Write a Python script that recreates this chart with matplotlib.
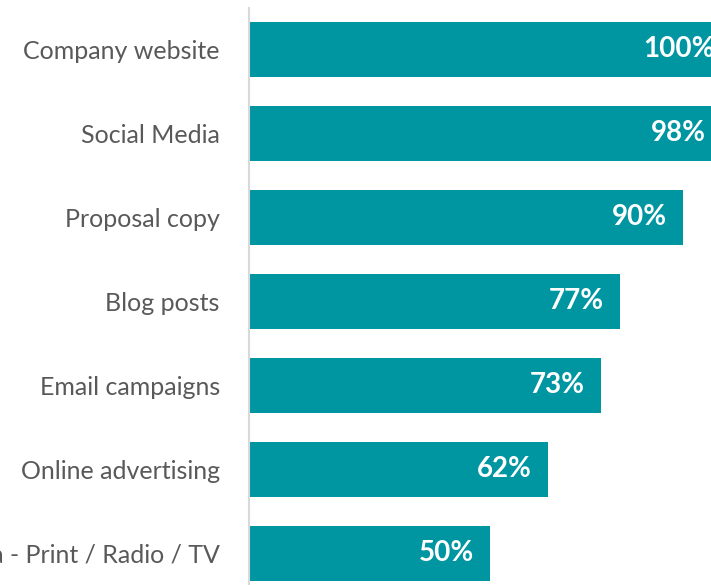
import matplotlib.pyplot as plt

channels = ["Company website", "Social Media", "Proposal copy", "Blog posts",
            "Email campaigns", "Online advertising",
            "Traditional media - Print / Radio / TV"]
shares = [100, 98, 90, 77, 73, 62, 50]

bar_color = "#0096A1"
text_color = "#595959"

fig = plt.figure(figsize=(7.11, 5.85), dpi=100)
ax = fig.add_axes([249 / 711, 0, 1 - 249 / 711, 577 / 585])

ypos = list(range(len(channels)))
ax.barh(ypos, shares, height=0.655, color=bar_color)

# the plot is cropped: the right end of the scale falls outside the figure
ax.set_xlim(0, (711 - 249) / 4.82)
ax.set_ylim(6.375, -0.494)

for y, v in zip(ypos, shares):
    ax.text(v - 3.3, y, f"{v}%", ha="right", va="center", color="white",
            fontsize=20, fontweight="bold", family="Lato", clip_on=False)

ax.set_yticks(ypos)
ax.set_yticklabels(channels, fontsize=18, color=text_color, family="Lato")
ax.tick_params(axis="y", length=0, pad=21)
ax.set_xticks([])

for s in ["top", "right", "bottom"]:
    ax.spines[s].set_visible(False)
ax.spines["left"].set_color("#D9D9D9")
ax.spines["left"].set_linewidth(1.5)

fig.savefig("out.png", dpi=100)
